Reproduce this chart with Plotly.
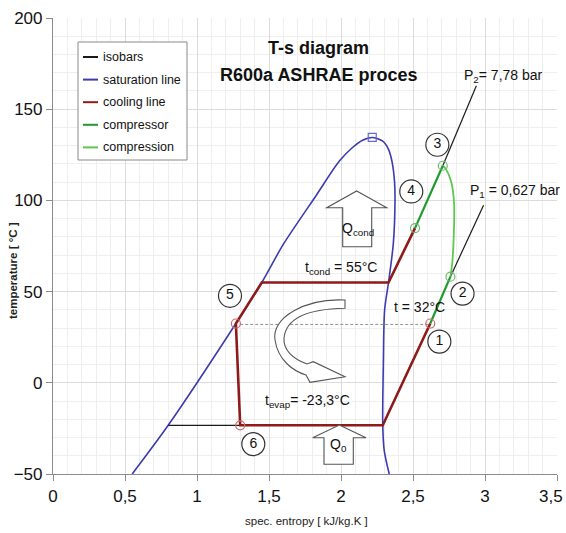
import plotly.graph_objects as go

# ---- R600a (isobutane) saturation dome --------------------------------
sat_s = [0.55, 0.80, 1.27, 1.45, 1.60, 1.83, 1.99, 2.08, 2.15, 2.217,
         2.29, 2.33, 2.355, 2.372, 2.375, 2.363, 2.33, 2.303, 2.294, 2.29, 2.30, 2.335]
sat_t = [-50, -23.3, 32.5, 55, 76, 103, 121.7, 129, 133, 134.5,
         132.5, 128, 121, 110, 100, 76, 55, 40, 10, -23.3, -37, -50]
crit_s = [2.217]
crit_t = [134.5]

# ---- ASHRAE cycle ----------------------------------------------------
t_cond = 55.0
t_evap = -23.3
t_sub = 32.0
# cooling line: 4 -> condenser -> 5 -> 6 -> evaporator -> 1
cool_s = [2.514, 2.33, 1.45, 1.27, 1.30, 2.29, 2.62]
cool_t = [84.8, t_cond, t_cond, 32.5, t_evap, t_evap, 32.5]
# compressor: 1 -> 2 and 4 -> 3
compr_s = [2.62, 2.76, None, 2.514, 2.707]
compr_t = [32.5, 58.2, None, 84.8, 119.0]
# compression curve 2 -> 3
compn_s = [2.76, 2.773, 2.785, 2.785, 2.766, 2.73, 2.707]
compn_t = [58.2, 66, 86, 99, 110, 117, 119.0]
# isobars
iso_s = [0.80, 1.30, None, 2.76, 2.99, None, 2.707, 2.94]
iso_t = [t_evap, t_evap, None, 58.2, 97.3, None, 119.0, 162.8]

# state points 1..6
state_s = [2.62, 2.76, 2.707, 2.514, 1.27, 1.30]
state_t = [32.5, 58.2, 119.0, 84.8, 32.5, t_evap]
state_names = ["1", "2", "3", "4", "5", "6"]
state_colors = ["#c86a6a", "#6fb86f", "#6fb86f", "#6fb86f", "#c86a6a", "#c86a6a"]
label_s = [2.683, 2.844, 2.669, 2.488, 1.229, 1.391]
label_t = [22.6, 48.9, 130.5, 104.9, 47.7, -33.6]

x_ticks = [0, 0.5, 1, 1.5, 2, 2.5, 3, 3.5]
x_ticktext = ["0", "0,5", "1", "1,5", "2", "2,5", "3", "3,5"]
y_ticks = [-50, 0, 50, 100, 150, 200]

W, H = 566, 533
ML, MR, MT, MB = 53, 9, 18, 59
XR = (0, 3.5)
YR = (-50, 200)
PW, PH = W - ML - MR, H - MT - MB

FONT = "Liberation Sans Narrow, Arial Narrow, Liberation Sans, Arial, sans-serif"


def to_data(px, py):
    x = XR[0] + (px - ML) / PW * (XR[1] - XR[0])
    y = YR[1] - (py - MT) / PH * (YR[1] - YR[0])
    return x, y


def to_paper(px, py):
    return (px - ML) / PW, 1 - (py - MT) / PH


def path_from(cmds):
    out = []
    for c in cmds:
        if c == "Z":
            out.append("Z")
            continue
        op, pts = c[0], c[1:]
        coords = []
        for (px, py) in pts:
            x, y = to_data(px, py)
            coords.append(f"{x:.4f},{y:.3f}")
        out.append(op + " ".join(coords))
    return " ".join(out)


fig = go.Figure()

fig.add_trace(go.Scatter(x=sat_s, y=sat_t, mode="lines", name="saturation line",
                         line=dict(color="#3c3cb0", width=1.6, shape="spline", smoothing=0.8),
                         showlegend=False))
fig.add_trace(go.Scatter(x=crit_s, y=crit_t, mode="markers", showlegend=False,
                         marker=dict(symbol="square-open", size=8, color="#6a6ad0",
                                     line=dict(width=1.2))))
fig.add_trace(go.Scatter(x=iso_s, y=iso_t, mode="lines", name="isobars",
                         line=dict(color="#1a1a1a", width=1.2), showlegend=False))
fig.add_trace(go.Scatter(x=[1.30, 2.62], y=[t_sub, t_sub], mode="lines", showlegend=False,
                         line=dict(color="#909090", width=1, dash="3px,2px")))
fig.add_trace(go.Scatter(x=cool_s, y=cool_t, mode="lines", name="cooling line",
                         line=dict(color="#8e1a1a", width=2.6), showlegend=False))
fig.add_trace(go.Scatter(x=compn_s, y=compn_t, mode="lines", name="compression",
                         line=dict(color="#5ec84e", width=1.8, shape="spline", smoothing=1),
                         showlegend=False))
fig.add_trace(go.Scatter(x=compr_s, y=compr_t, mode="lines", name="compressor",
                         line=dict(color="#1f9a2e", width=2.2), showlegend=False))
fig.add_trace(go.Scatter(x=state_s, y=state_t, mode="markers", showlegend=False,
                         marker=dict(symbol="circle-open", size=9, color=state_colors,
                                     line=dict(width=1.2))))
fig.add_trace(go.Scatter(x=label_s, y=label_t, mode="markers+text", showlegend=False,
                         text=state_names, textposition="middle center",
                         textfont=dict(family=FONT, size=14, color="#111"),
                         marker=dict(symbol="circle", size=23, color="white",
                                     line=dict(color="#333", width=1.2))))

shapes = []
# heat arrows (Q_cond up, Q_0 up)
for tip, wing_y, wl, wr, sl, sr, bot in [
        ((356.7, 191), 207.7, 326.7, 386.7, 342.7, 371.7, 246.7),
        ((339.3, 425), 437.7, 312.7, 366.0, 324.0, 353.3, 464.3)]:
    shapes.append(dict(type="path", xref="x", yref="y",
                       path=path_from([("M", tip), ("L", (wr, wing_y)), ("L", (sr, wing_y)),
                                       ("L", (sr, bot)), ("L", (sl, bot)), ("L", (sl, wing_y)),
                                       ("L", (wl, wing_y)), "Z"]),
                       line=dict(color="#555", width=1.1), fillcolor="white", layer="above"))
# curved cycle arrow
shapes.append(dict(type="path", xref="x", yref="y", layer="above",
                   path=path_from([("M", (345, 300)),
                                   ("C", (305, 298), (271, 318), (275, 340)),
                                   ("C", (278, 360), (293, 371), (306, 375)),
                                   ("L", (310, 382.3)), ("L", (345, 376.7)), ("L", (313.3, 361.7)),
                                   ("L", (307, 364)),
                                   ("C", (293, 359), (283, 350), (284, 338)),
                                   ("C", (286, 318), (308, 309), (345, 308.3)), "Z"]),
                   line=dict(color="#555", width=1.1), fillcolor="white"))

# hand-built legend box
lx0, ly0 = to_paper(78, 42)
lx1, ly1 = to_paper(187, 160)
shapes.append(dict(type="rect", xref="paper", yref="paper", x0=lx0, y0=ly1, x1=lx1, y1=ly0,
                   line=dict(color="#8a8a8a", width=1), fillcolor="white", layer="above"))
legend_items = [("isobars", "#1a1a1a"), ("saturation line", "#3c3cb0"),
                ("cooling line", "#8e1a1a"), ("compressor", "#1f9a2e"),
                ("compression", "#5ec84e")]
annotations = []
for i, (txt, col) in enumerate(legend_items):
    py = 57 + i * 22.6
    ax0, ay = to_paper(83, py)
    ax1, _ = to_paper(98, py)
    shapes.append(dict(type="line", xref="paper", yref="paper", x0=ax0, x1=ax1, y0=ay, y1=ay,
                       line=dict(color=col, width=2), layer="above"))
    tx, _ = to_paper(101, py)
    annotations.append(dict(xref="paper", yref="paper", x=tx, y=ay, text=txt, showarrow=False,
                            xanchor="left", yanchor="middle",
                            font=dict(family=FONT, size=12.5, color="#111")))

# titles
for txt, py in [("T-s diagram", 48), ("R600a ASHRAE proces", 75)]:
    px_, py_ = to_paper(318, py)
    annotations.append(dict(xref="paper", yref="paper", x=px_, y=py_, text=f"<b>{txt}</b>",
                            showarrow=False, xanchor="center", yanchor="middle",
                            font=dict(family=FONT, size=18, color="#111")))

# in-plot labels (data coordinates)
labels = [
    ("P<sub>2</sub>= 7,78 bar", 2.84, 168.3, "left"),
    ("P<sub>1</sub> = 0,627 bar", 2.88, 105.3, "left"),
    ("t<sub>cond</sub> = 55°C", 1.736, 63.2, "left"),
    ("Q<sub>cond</sub>", 2.116, 84.3, "center"),
    ("t = 32°C", 2.352, 41.3, "left"),
    ("t<sub>evap</sub>= -23,3°C", 1.46, -9.9, "left"),
    ("Q<sub>0</sub>", 1.98, -34, "center"),
]
for txt, x, y, anc in labels:
    annotations.append(dict(x=x, y=y, xref="x", yref="y", text=txt, showarrow=False,
                            xanchor=anc, yanchor="middle",
                            font=dict(family=FONT, size=14, color="#111")))

# last x tick label, kept inside the page edge
tick_font = dict(family=FONT, size=17, color="#111")
ex, ey = to_paper(W - 1, 496)
annotations.append(dict(xref="paper", yref="paper", x=ex, y=ey, text=x_ticktext[-1],
                        showarrow=False, xanchor="right", yanchor="middle", font=tick_font))
x_ticktext_drawn = x_ticktext[:-1] + [""]

# axis titles
tx, ty = to_paper(13, 271)
annotations.append(dict(xref="paper", yref="paper", x=tx, y=ty, text="<b>temperature [ °C ]</b>",
                        textangle=-90, showarrow=False, xanchor="center", yanchor="middle",
                        font=dict(family=FONT, size=11.5, color="#222")))
tx, ty = to_paper(306, 521)
annotations.append(dict(xref="paper", yref="paper", x=tx, y=ty, text="spec. entropy [ kJ/kg.K ]",
                        showarrow=False, xanchor="center", yanchor="middle",
                        font=dict(family=FONT, size=11.5, color="#222")))

axis_common = dict(showline=True, linecolor="#8c8c8c", linewidth=1.2, ticks="outside",
                   ticklen=6, tickcolor="#8c8c8c", gridcolor="#dcdcdc", gridwidth=1,
                   zeroline=False, automargin=False, tickfont=tick_font)

fig.update_layout(
    width=W, height=H, margin=dict(l=ML, r=MR, t=MT, b=MB, autoexpand=False),
    paper_bgcolor="white", plot_bgcolor="white",
    showlegend=False, shapes=shapes, annotations=annotations,
    xaxis=dict(range=list(XR), tickvals=x_ticks, ticktext=x_ticktext_drawn,
               minor=dict(dtick=0.1, showgrid=True, gridcolor="#efefef", gridwidth=1),
               **axis_common),
    yaxis=dict(range=list(YR), tickvals=y_ticks,
               minor=dict(dtick=10, showgrid=True, gridcolor="#efefef", gridwidth=1),
               **axis_common),
)

fig.write_html("out.html")
